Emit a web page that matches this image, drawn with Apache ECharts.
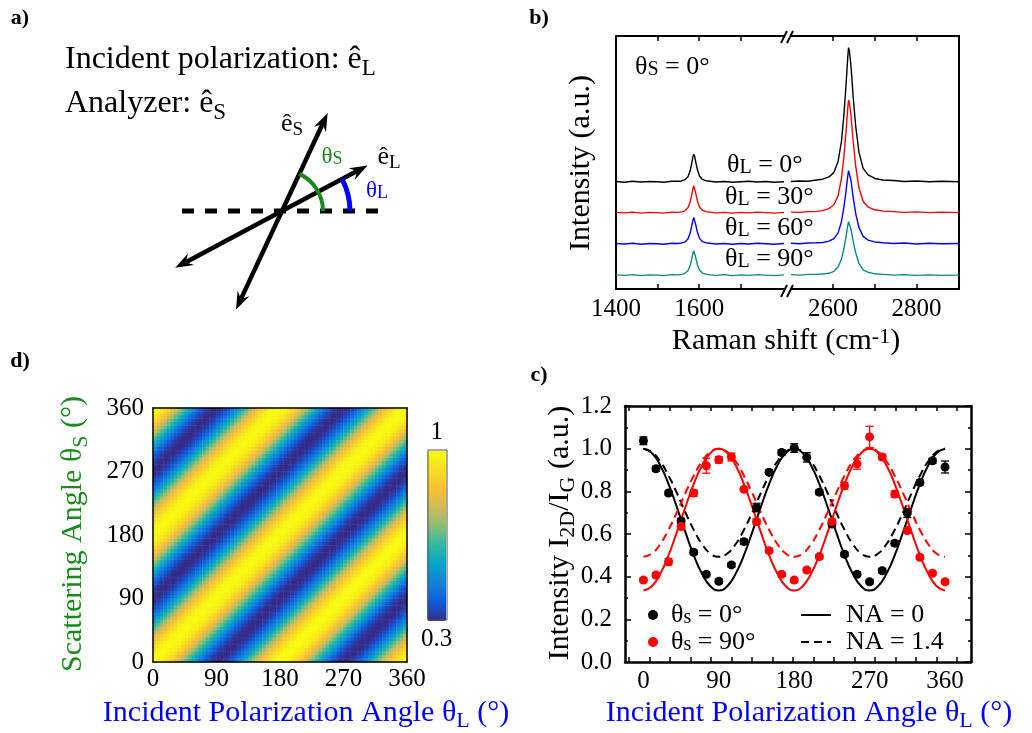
<!DOCTYPE html>
<html>
<head>
<meta charset="utf-8">
<script src="https://cdn.jsdelivr.net/npm/echarts@6.0.0/dist/echarts.min.js"></script>
<style>
  html, body { margin: 0; padding: 0; background: #ffffff; }
  #chart { width: 1032px; height: 733px; }
</style>
</head>
<body>
<div id="chart"></div>
<script>
// ---------------- panel b: Raman spectra (broken shift axis) ----------------
const shiftLeft = [1400,1420,1440,1460,1480,1500,1514,1534,1548,1558,1566,1573,1578,1582,1585,1587,1589,1592,1596,1601,1608,1616,1626,1640,1660,1680,1700,1720,1740,1760,1780,1804];
const shiftRight = [2499,2520,2540,2560,2575,2590,2602,2612,2620,2626,2631,2635,2637,2639,2643,2648,2654,2662,2672,2684,2700,2720,2745,2770,2800,2830,2860,2902];

// intensities (a.u., vertically offset) for θL = 0°, 30°, 60°, 90°
const spec0Left  = [4.25,4.22,4.26,4.23,4.25,4.24,4.22,4.26,4.26,4.27,4.32,4.44,4.65,4.96,5.22,5.33,5.25,5.00,4.70,4.46,4.33,4.28,4.26,4.23,4.25,4.22,4.24,4.26,4.23,4.25,4.22,4.24];
const spec0Right = [4.25,4.27,4.26,4.31,4.34,4.43,4.61,5.04,5.83,6.89,8.06,9.12,9.54,9.43,8.80,7.63,6.47,5.41,4.77,4.51,4.37,4.31,4.29,4.25,4.27,4.24,4.26,4.24];
const spec30Left  = [3.03,3.01,3.04,3.00,3.03,3.02,3.00,3.04,3.03,3.05,3.09,3.21,3.42,3.72,3.97,4.08,4.01,3.76,3.47,3.23,3.11,3.06,3.04,3.01,3.03,3.00,3.03,3.01,3.04,3.02,3.00,3.03];
const spec30Right = [3.04,3.03,3.06,3.07,3.10,3.18,3.33,3.69,4.36,5.25,6.22,7.11,7.47,7.38,6.85,5.87,4.89,4.00,3.47,3.24,3.13,3.08,3.06,3.03,3.05,3.02,3.04,3.02];
const spec60Left  = [1.80,1.78,1.81,1.77,1.80,1.79,1.77,1.81,1.80,1.82,1.86,1.98,2.19,2.48,2.73,2.83,2.76,2.52,2.23,2.00,1.87,1.83,1.81,1.78,1.80,1.77,1.80,1.78,1.81,1.79,1.77,1.80];
const spec60Right = [1.81,1.79,1.82,1.83,1.84,1.89,1.99,2.22,2.66,3.24,3.87,4.45,4.68,4.62,4.28,3.64,3.00,2.43,2.08,1.93,1.86,1.83,1.80,1.82,1.78,1.81,1.79,1.80];
const spec90Left  = [0.56,0.54,0.57,0.53,0.56,0.55,0.53,0.57,0.56,0.58,0.62,0.72,0.91,1.18,1.41,1.51,1.44,1.22,0.95,0.74,0.63,0.59,0.56,0.54,0.57,0.53,0.56,0.54,0.57,0.55,0.53,0.56];
const spec90Right = [0.57,0.55,0.58,0.58,0.59,0.62,0.70,0.87,1.18,1.61,2.07,2.49,2.66,2.62,2.36,1.90,1.44,1.01,0.76,0.66,0.60,0.58,0.55,0.57,0.54,0.56,0.54,0.55];

const leftTicksB = [1500,1600,1700];
const leftLabelsB = [1400,1600];
const rightTicksB = [2600,2700,2800];
const rightLabelsB = [2600,2800];

// ---------------- panel c: I2D/IG versus incident polarization ----------------
const polAngles = [0,15,30,45,60,75,90,105,120,135,150,165,180,195,210,225,240,255,270,285,300,315,330,345,360];
const ratioS0  = [1.037,0.906,0.792,0.661,0.514,0.411,0.378,0.455,0.564,0.724,0.890,0.982,1.003,0.959,0.796,0.647,0.505,0.411,0.376,0.428,0.557,0.698,0.841,0.943,0.914];
const ratioS90 = [0.384,0.408,0.470,0.635,0.792,0.920,0.948,0.961,0.810,0.658,0.522,0.411,0.384,0.431,0.494,0.658,0.826,0.929,1.055,0.961,0.787,0.616,0.491,0.416,0.376];
const errS0  = [0.018,0.012,0.010,0.012,0.010,0.010,0.010,0.010,0.012,0.020,0.010,0.012,0.020,0.022,0.012,0.012,0.010,0.010,0.010,0.010,0.012,0.020,0.012,0.012,0.028];
const errS90 = [0.010,0.010,0.015,0.012,0.015,0.035,0.015,0.018,0.010,0.012,0.010,0.010,0.010,0.010,0.010,0.012,0.015,0.025,0.050,0.012,0.015,0.012,0.010,0.010,0.010];

const fitAngles = [0,10,20,30,40,50,60,70,80,90,100,110,120,130,140,150,160,170,180,190,200,210,220,230,240,250,260,270,280,290,300,310,320,330,340,350,360];
const fitS0NA0    = [1.000,0.980,0.922,0.834,0.725,0.610,0.501,0.413,0.355,0.335,0.355,0.413,0.501,0.610,0.725,0.834,0.922,0.980,1.000,0.980,0.922,0.834,0.725,0.610,0.501,0.413,0.355,0.335,0.355,0.413,0.501,0.610,0.725,0.834,0.922,0.980,1.000];
const fitS0NA14   = [1.000,0.985,0.941,0.873,0.791,0.702,0.620,0.552,0.508,0.493,0.508,0.552,0.620,0.702,0.791,0.873,0.941,0.985,1.000,0.985,0.941,0.873,0.791,0.702,0.620,0.552,0.508,0.493,0.508,0.552,0.620,0.702,0.791,0.873,0.941,0.985,1.000];
const fitS90NA0   = [0.335,0.355,0.413,0.501,0.610,0.725,0.834,0.922,0.980,1.000,0.980,0.922,0.834,0.725,0.610,0.501,0.413,0.355,0.335,0.355,0.413,0.501,0.610,0.725,0.834,0.922,0.980,1.000,0.980,0.922,0.834,0.725,0.610,0.501,0.413,0.355,0.335];
const fitS90NA14  = [0.493,0.508,0.552,0.620,0.702,0.791,0.873,0.941,0.985,1.000,0.985,0.941,0.873,0.791,0.702,0.620,0.552,0.508,0.493,0.508,0.552,0.620,0.702,0.791,0.873,0.941,0.985,1.000,0.985,0.941,0.873,0.791,0.702,0.620,0.552,0.508,0.493];

const angleLabelsC = [0,90,180,270,360];

// ---------------- panel d: normalised 2D intensity map ----------------
// intensity as a function of (θL − θS), sampled every 5°
const contrastByOffset = [1.000,0.995,0.979,0.953,0.918,0.875,0.825,0.770,0.711,0.650,0.589,0.530,0.475,0.425,0.382,0.347,0.321,0.305,0.300,0.305,0.321,0.347,0.382,0.425,0.475,0.530,0.589,0.650,0.711,0.770,0.825,0.875,0.918,0.953,0.979,0.995];
const cellStep = 5;
const colorbarRange = [0.3, 1];
const parula = ['#352a87','#0f5cdd','#1481d6','#06a4ca','#2eb7a4','#87bf77','#d1bb59','#fbbf36','#f7dd24','#f9fb0e'];

// ---------------- build ----------------
const FONT = 'Liberation Serif';

const nCells = 360 / cellStep;
const cellCentres = Array.from({ length: nCells }, (_, k) => String(k * cellStep + cellStep / 2));
const heatData = [];
for (let i = 0; i < nCells; i++) {
  for (let j = 0; j < nCells; j++) {
    const n = contrastByOffset.length;
    heatData.push([i, j, contrastByOffset[((i - j) % n + n) % n]]);
  }
}

const pairs = (xs, ys) => xs.map((x, i) => [x, ys[i]]);

// tick positions along panel c's angle axis
const ticksC = Array.from({ length: 17 }, (_, k) => -17.2 + 24.47 * k);

const specColors = ['#000000', '#ff0000', '#0000ff', '#0d8a85'];
const specLeft = [spec0Left, spec30Left, spec60Left, spec90Left];
const specRight = [spec0Right, spec30Right, spec60Right, spec90Right];

const series = [];
specLeft.forEach((ys, k) => {
  series.push({ type: 'line', xAxisIndex: 0, yAxisIndex: 0, data: pairs(shiftLeft, ys),
    showSymbol: false, symbol: 'none', lineStyle: { color: specColors[k], width: 1.4 }, silent: true });
});
specRight.forEach((ys, k) => {
  series.push({ type: 'line', xAxisIndex: 2, yAxisIndex: 1, data: pairs(shiftRight, ys),
    showSymbol: false, symbol: 'none', lineStyle: { color: specColors[k], width: 1.4 }, silent: true });
});

// panel c fits
const fitSeries = [
  { name: 'NA = 0', ys: fitS0NA0, color: '#000', dash: 'solid' },
  { name: 'NA = 1.4', ys: fitS0NA14, color: '#000', dash: [8, 5] },
  { name: 'NA = 0, θs = 90°', ys: fitS90NA0, color: '#ff0000', dash: 'solid' },
  { name: 'NA = 1.4, θs = 90°', ys: fitS90NA14, color: '#ff0000', dash: [8, 5] }
];
fitSeries.forEach(f => {
  series.push({ name: f.name, type: 'line', xAxisIndex: 4, yAxisIndex: 2, data: pairs(fitAngles, f.ys),
    smooth: true, symbol: 'none', showSymbol: false, z: 3,
    lineStyle: { color: f.color, width: 2, type: f.dash }, itemStyle: { color: f.color } });
});

function errorBar(color) {
  return function (params, api) {
    const x = api.value(0);
    const lo = api.coord([x, api.value(1)]);
    const hi = api.coord([x, api.value(2)]);
    const w = 4;
    const st = { stroke: color, lineWidth: 1.3 };
    return { type: 'group', children: [
      { type: 'line', shape: { x1: lo[0], y1: lo[1], x2: hi[0], y2: hi[1] }, style: st },
      { type: 'line', shape: { x1: hi[0] - w, y1: hi[1], x2: hi[0] + w, y2: hi[1] }, style: st },
      { type: 'line', shape: { x1: lo[0] - w, y1: lo[1], x2: lo[0] + w, y2: lo[1] }, style: st }
    ] };
  };
}
[[ratioS0, errS0, '#000'], [ratioS90, errS90, '#ff0000']].forEach(([ys, es, c]) => {
  series.push({ type: 'custom', xAxisIndex: 4, yAxisIndex: 2, z: 4, silent: true,
    data: polAngles.map((a, i) => [a, ys[i] - es[i], ys[i] + es[i]]),
    encode: { x: 0, y: [1, 2] }, renderItem: errorBar(c) });
});
series.push({ name: 'θs = 0°', type: 'scatter', xAxisIndex: 4, yAxisIndex: 2, z: 5,
  data: pairs(polAngles, ratioS0), symbol: 'circle', symbolSize: 9, itemStyle: { color: '#000', opacity: 1 } });
series.push({ name: 'θs = 90°', type: 'scatter', xAxisIndex: 4, yAxisIndex: 2, z: 5,
  data: pairs(polAngles, ratioS90), symbol: 'circle', symbolSize: 9, itemStyle: { color: '#ff0000', opacity: 1 } });

// panel d heat map
series.push({ type: 'heatmap', xAxisIndex: 6, yAxisIndex: 4, data: heatData, silent: true,
  itemStyle: { borderWidth: 0 }, progressive: 0 });

// ---------------- axes ----------------
const black = '#000';
const tickLabel = { fontFamily: FONT, fontSize: 25, color: black };

function spectrumX(gridIndex, min, max, ticks, labels, pos) {
  return { type: 'value', gridIndex, min, max, position: pos,
    axisLine: { show: true, lineStyle: { color: black, width: 2 } },
    axisTick: { show: true, inside: true, length: 5, customValues: ticks, lineStyle: { color: black, width: 1.5 } },
    axisLabel: pos === 'bottom'
      ? Object.assign({ show: true, margin: 8, customValues: labels, formatter: v => String(v) }, tickLabel)
      : { show: false },
    splitLine: { show: false } };
}
function plainY(gridIndex, pos, width) {
  return { type: 'value', gridIndex, min: 0, max: 10, position: pos,
    axisLine: { show: true, onZero: false, lineStyle: { color: black, width } },
    axisTick: { show: false }, axisLabel: { show: false }, splitLine: { show: false } };
}
function angleXc(pos) {
  return { type: 'value', gridIndex: 2, min: -22, max: 391, position: pos,
    axisLine: { show: true, onZero: false, lineStyle: { color: black, width: 2.5 } },
    axisTick: { show: true, inside: true, length: 5, customValues: ticksC, lineStyle: { color: black, width: 1.5 } },
    axisLabel: pos === 'bottom'
      ? Object.assign({ show: true, margin: 7, customValues: angleLabelsC, formatter: v => String(v) }, tickLabel)
      : { show: false },
    splitLine: { show: false } };
}
function ratioY(pos) {
  return { type: 'value', gridIndex: 2, min: 0, max: 1.2, interval: 0.2, position: pos,
    axisLine: { show: true, onZero: false, lineStyle: { color: black, width: 2.5 } },
    axisTick: { show: true, inside: true, length: 6, lineStyle: { color: black, width: 1.5 } },
    minorTick: { show: true, splitNumber: 2, length: 3, lineStyle: { color: black, width: 1.5 } },
    axisLabel: pos === 'left' ? Object.assign({ show: true, margin: 13, formatter: v => v.toFixed(1) }, tickLabel) : { show: false },
    splitLine: { show: false } };
}
function mapAxis(gridIndex, pos, isX, showLabel) {
  return { type: 'value', gridIndex, min: 0, max: 360, interval: 90, position: pos, z: 10,
    axisLine: { show: true, onZero: false, lineStyle: { color: black, width: 1.5 } },
    axisTick: { show: false },
    axisLabel: showLabel ? Object.assign({ show: true, margin: isX ? 5 : 9 }, tickLabel) : { show: false },
    splitLine: { show: false } };
}

const xAxis = [
  spectrumX(0, 1400, 1804, leftTicksB, leftLabelsB, 'bottom'),
  spectrumX(0, 1400, 1804, leftTicksB, leftLabelsB, 'top'),
  spectrumX(1, 2499, 2902, rightTicksB, rightLabelsB, 'bottom'),
  spectrumX(1, 2499, 2902, rightTicksB, rightLabelsB, 'top'),
  angleXc('bottom'),
  angleXc('top'),
  { type: 'category', gridIndex: 3, data: cellCentres, show: false },
  mapAxis(4, 'bottom', true, true),
  mapAxis(4, 'top', true, false)
];
const yAxis = [
  plainY(0, 'left', 2),
  plainY(1, 'right', 2),
  ratioY('left'),
  ratioY('right'),
  { type: 'category', gridIndex: 3, data: cellCentres, show: false },
  mapAxis(4, 'left', false, true),
  mapAxis(4, 'right', false, false)
];

const gridBase = { containLabel: false, outerBoundsMode: 'none', show: false };
const grid = [
  Object.assign({ left: 616, top: 36, width: 168, height: 253 }, gridBase),
  Object.assign({ left: 791, top: 36, width: 168, height: 253 }, gridBase),
  Object.assign({ left: 625, top: 406, width: 346, height: 256 }, gridBase),
  Object.assign({ left: 153, top: 408, width: 254, height: 254 }, gridBase),
  Object.assign({ left: 153, top: 408, width: 254, height: 254 }, gridBase)
];

// ---------------- text helpers ----------------
function richSet(size, color) {
  const sub = Math.round(size * 0.72);
  return {
    m: { fontFamily: FONT, fontSize: size, lineHeight: size, fill: color, color, verticalAlign: 'top' },
    s: { fontFamily: FONT, fontSize: sub, lineHeight: sub, fill: color, color, verticalAlign: 'top', padding: [Math.round(size * 0.4), 0, 0, 0] },
    p: { fontFamily: FONT, fontSize: sub, lineHeight: sub, fill: color, color, verticalAlign: 'top', padding: [0, 0, 0, 0] }
  };
}
function capsSet(size, color) {
  return {
    m: { fontFamily: FONT, fontSize: size, lineHeight: size, fill: color, color, verticalAlign: 'bottom' },
    k: { fontFamily: FONT, fontSize: Math.round(size * 0.78), lineHeight: Math.round(size * 0.78), fill: color, color, verticalAlign: 'bottom' }
  };
}
function txt(x, y, text, rich, opts) {
  opts = opts || {};
  return { type: 'text', x, y, rotation: opts.rotation || 0, z: 50,
    style: { text, rich, fill: opts.color || black, fontFamily: FONT, fontSize: opts.size || 26,
      fontWeight: opts.weight || 'normal',
      align: opts.align || 'center', textAlign: opts.align || 'center',
      verticalAlign: 'middle', textVerticalAlign: 'middle' } };
}

// ---------------- panel a: polarization geometry ----------------
const origin = [282, 211];
const angleL = 28, angleS = 65;   // degrees above the horizontal reference

function arrow(deg, fwd, back) {
  const a = deg * Math.PI / 180, ux = Math.cos(a), uy = -Math.sin(a);
  const t1 = [origin[0] + ux * fwd, origin[1] + uy * fwd];
  const t2 = [origin[0] - ux * back, origin[1] - uy * back];
  const head = (t, dx, dy) => {
    const nx = -dy, ny = dx, L = 18, W = 6.5, N = 12;
    return { type: 'polygon', z: 40, shape: { points: [t,
      [t[0] - dx * L + nx * W, t[1] - dy * L + ny * W],
      [t[0] - dx * N, t[1] - dy * N],
      [t[0] - dx * L - nx * W, t[1] - dy * L - ny * W]] }, style: { fill: black } };
  };
  return [
    { type: 'line', z: 39, shape: { x1: t2[0] + ux * 12, y1: t2[1] + uy * 12, x2: t1[0] - ux * 12, y2: t1[1] - uy * 12 },
      style: { stroke: black, lineWidth: 4.5 } },
    head(t1, ux, uy), head(t2, -ux, -uy)
  ];
}

const graphic = [
  // panel letters
  txt(20, 18, 'a)', null, { size: 22, weight: 'bold' }),
  txt(539, 18, 'b)', null, { size: 22, weight: 'bold' }),
  txt(20, 361, 'd)', null, { size: 22, weight: 'bold' }),
  txt(539, 375, 'c)', null, { size: 22, weight: 'bold' }),

  // panel a texts
  txt(65, 60, '{m|Incident polarization: ê}{s|L}', richSet(32, black), { align: 'left' }),
  txt(65, 104, '{m|Analyzer: ê}{s|S}', richSet(32, black), { align: 'left' }),
  { type: 'line', z: 38, shape: { x1: 182, y1: origin[1], x2: 384, y2: origin[1] },
    style: { stroke: black, lineWidth: 5, lineDash: [12, 11] } },
  ...arrow(angleL, 97, 121),
  ...arrow(angleS, 108, 109),
  { type: 'arc', z: 41, shape: { cx: origin[0], cy: origin[1], r: 41, startAngle: -angleS * Math.PI / 180, endAngle: 0, clockwise: true },
    style: { stroke: '#1a8a1a', lineWidth: 4, fill: null } },
  { type: 'arc', z: 41, shape: { cx: origin[0], cy: origin[1], r: 68, startAngle: -angleL * Math.PI / 180, endAngle: 0, clockwise: true },
    style: { stroke: '#0000ff', lineWidth: 5, fill: null } },
  txt(292, 124, '{m|ê}{s|S}', richSet(26, black)),
  txt(389, 157, '{m|ê}{s|L}', richSet(26, black)),
  txt(332, 157, '{m|θ}{k|S}', capsSet(23, '#1a8a1a'), { color: '#1a8a1a' }),
  txt(377, 191, '{m|θ}{k|L}', capsSet(23, '#0000ff'), { color: '#0000ff' }),

  // panel b annotations
  txt(635, 67, '{m|θ}{k|S}{m| = 0°}', capsSet(26, black), { align: 'left' }),
  txt(727, 165, '{m|θ}{k|L}{m| = 0°}', capsSet(26, black), { align: 'left' }),
  txt(725, 197, '{m|θ}{k|L}{m| = 30°}', capsSet(26, black), { align: 'left' }),
  txt(725, 228, '{m|θ}{k|L}{m| = 60°}', capsSet(26, black), { align: 'left' }),
  txt(725, 259, '{m|θ}{k|L}{m| = 90°}', capsSet(26, black), { align: 'left' }),
  // break marks on the shift axis
  { type: 'line', z: 45, shape: { x1: 781, y1: 43, x2: 787, y2: 31 }, style: { stroke: black, lineWidth: 2 } },
  { type: 'line', z: 45, shape: { x1: 787, y1: 43, x2: 793, y2: 31 }, style: { stroke: black, lineWidth: 2 } },
  { type: 'line', z: 45, shape: { x1: 781, y1: 297, x2: 787, y2: 285 }, style: { stroke: black, lineWidth: 2 } },
  { type: 'line', z: 45, shape: { x1: 787, y1: 297, x2: 793, y2: 285 }, style: { stroke: black, lineWidth: 2 } },
  // panel b titles
  txt(786, 341, '{m|Raman shift (cm}{p|-1}{m|)}', richSet(30, black)),
  txt(581, 163, '{m|Intensity (a.u.)}', richSet(30, black), { rotation: Math.PI / 2 }),

  // panel c titles
  txt(809, 713, '{m|Incident Polarization Angle θ}{s|L}{m| (°)}', richSet(30, '#0000ff'), { color: '#0000ff' }),
  txt(560, 533, '{m|Intensity I}{s|2D}{m|/I}{s|G}{m| (a.u.)}', richSet(30, black), { rotation: Math.PI / 2 }),

  // panel d titles and colour bar frame
  txt(306, 713, '{m|Incident Polarization Angle θ}{s|L}{m| (°)}', richSet(30, '#0000ff'), { color: '#0000ff' }),
  txt(73, 534, '{m|Scattering Angle θ}{s|S}{m| (°)}', richSet(30, '#1a8a1a'), { rotation: Math.PI / 2, color: '#1a8a1a' }),
  { type: 'rect', z: 60, shape: { x: 428, y: 450, width: 19, height: 170 }, style: { fill: null, stroke: '#555', lineWidth: 1 } }
];

// ---------------- legends (panel c) ----------------
const legendRich = {
  m: { fontFamily: FONT, fontSize: 26, color: black, verticalAlign: 'bottom', lineHeight: 26 },
  k: { fontFamily: FONT, fontSize: 20, color: black, verticalAlign: 'bottom', lineHeight: 20 }
};
const legend = [
  { orient: 'vertical', left: 643, top: 597, itemWidth: 10, itemHeight: 10, itemGap: 1,
    data: ['θs = 0°', 'θs = 90°'], selectedMode: false,
    formatter: n => '{m|θ}{k|s}{m|' + n.slice(2) + '}',
    textStyle: { fontFamily: FONT, fontSize: 26, color: black, padding: [0, 0, 0, 8], rich: legendRich } },
  { orient: 'vertical', left: 795, top: 597, itemWidth: 30, itemHeight: 10, itemGap: 1,
    data: ['NA = 0', 'NA = 1.4'], selectedMode: false,
    itemStyle: { opacity: 0 },
    formatter: n => '{m|' + n + '}',
    textStyle: { fontFamily: FONT, fontSize: 26, color: black, padding: [0, 0, 0, 10], rich: legendRich } }
];

const option = {
  animation: false,
  backgroundColor: '#ffffff',
  textStyle: { fontFamily: FONT },
  grid, xAxis, yAxis, series, graphic, legend,
  visualMap: {
    type: 'continuous', seriesIndex: series.length - 1,
    min: colorbarRange[0], max: colorbarRange[1], calculable: false, hoverLink: false,
    orient: 'vertical', left: 406, top: 405, itemWidth: 19, itemHeight: 170, textGap: 6,
    text: ['1', '0.3'], textStyle: { fontFamily: FONT, fontSize: 25, color: black },
    inRange: { color: parula }
  }
};

const chart = echarts.init(document.getElementById('chart'), null, { renderer: 'canvas' });
chart.setOption(option);
</script>
</body>
</html>
